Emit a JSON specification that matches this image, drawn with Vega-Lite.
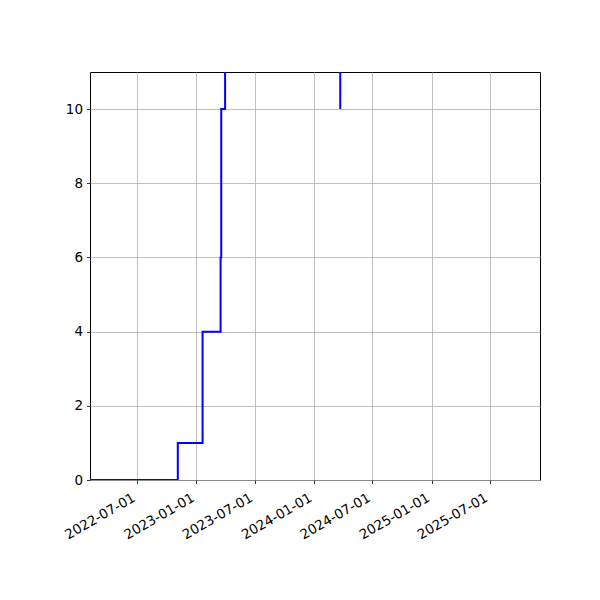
{
  "$schema": "https://vega.github.io/schema/vega-lite/v6.json",
  "width": 450,
  "height": 408,
  "autosize": {"type": "none"},
  "padding": {"left": 90, "top": 72, "right": 60, "bottom": 120},
  "background": "white",
  "data": {
    "values": [
      {"date": "2022-02-04", "value": 0},
      {"date": "2022-11-04", "value": 1},
      {"date": "2023-01-20", "value": 4},
      {"date": "2023-03-17", "value": 6},
      {"date": "2023-03-19", "value": 10},
      {"date": "2023-03-31", "value": 12},
      {"date": "2024-03-23", "value": 10}
    ]
  },
  "mark": {"type": "line", "interpolate": "step-after", "color": "blue", "strokeWidth": 2, "clip": true},
  "encoding": {
    "x": {
      "field": "date",
      "type": "temporal",
      "scale": {
        "type": "utc",
        "domain": [
          {"year": 2022, "month": 2, "date": 4, "utc": true},
          {"year": 2025, "month": 12, "date": 4, "utc": true}
        ]
      },
      "axis": {
        "title": null,
        "labelExpr": "utcFormat(datum.value, '%Y-%m-%d')",
        "labelAngle": -30,
        "labelAlign": "right",
        "labelBaseline": "bottom",
        "labelPadding": 19,
        "labelOverlap": false,
        "labelBound": false,
        "labelFlush": false,
        "values": [
          {"year": 2022, "month": 7, "date": 1, "utc": true},
          {"year": 2023, "month": 1, "date": 1, "utc": true},
          {"year": 2023, "month": 7, "date": 1, "utc": true},
          {"year": 2024, "month": 1, "date": 1, "utc": true},
          {"year": 2024, "month": 7, "date": 1, "utc": true},
          {"year": 2025, "month": 1, "date": 1, "utc": true},
          {"year": 2025, "month": 7, "date": 1, "utc": true}
        ]
      }
    },
    "y": {
      "field": "value",
      "type": "quantitative",
      "scale": {"domain": [0, 11], "nice": false, "zero": true},
      "axis": {"title": null, "values": [0, 2, 4, 6, 8, 10]}
    }
  },
  "config": {
    "font": "DejaVu Sans",
    "view": {"stroke": "black", "strokeWidth": 1},
    "axis": {
      "domain": false,
      "grid": true,
      "gridColor": "#b0b0b0",
      "gridWidth": 0.8,
      "gridOpacity": 1,
      "ticks": true,
      "tickColor": "black",
      "tickSize": 3.5,
      "tickWidth": 0.8,
      "labelFont": "DejaVu Sans",
      "labelFontSize": 13.5,
      "labelColor": "black"
    },
    "axisY": {"labelPadding": 4}
  }
}
